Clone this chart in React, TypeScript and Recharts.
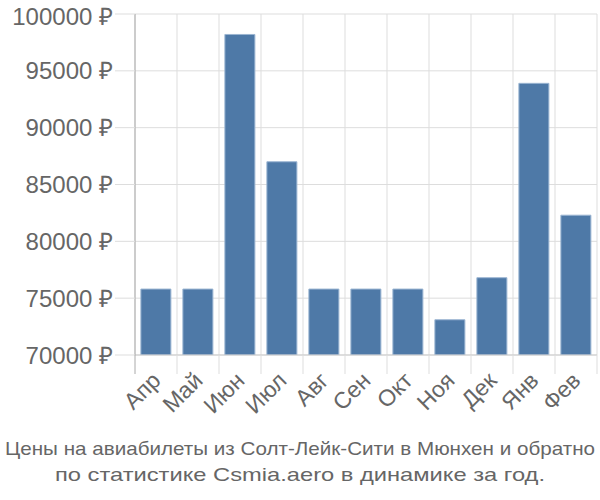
import { BarChart, Bar, XAxis, YAxis, CartesianGrid } from "recharts";

const MONTHS = ["Апр", "Май", "Июн", "Июл", "Авг", "Сен", "Окт", "Ноя", "Дек", "Янв", "Фев"];
const PRICES = [75800, 75800, 98200, 87000, 75800, 75800, 75800, 73100, 76800, 93900, 82300];
const Y_TICKS = [70000, 75000, 80000, 85000, 90000, 95000, 100000];
const TITLE_LINES = [
  "Цены на авиабилеты из Солт-Лейк-Сити в Мюнхен и обратно",
  "по статистике Csmia.aero в динамике за год.",
];

const data = MONTHS.map((m, i) => ({ month: m, price: PRICES[i] }));

const FONT = "'Liberation Sans', Arial, sans-serif";

function MonthTick(props: any) {
  const { x, y, payload, index, width, visibleTicksCount } = props;
  const bw = width / (visibleTicksCount || MONTHS.length);
  const left = x - bw / 2;
  const ax = x + 6;
  const ay = y + 27;
  return (
    <g>
      <line x1={left} y1={y} x2={left} y2={y + 19} stroke={index === 0 ? "#aaa" : "#ddd"} />
      {index === MONTHS.length - 1 && (
        <line x1={left + bw} y1={y} x2={left + bw} y2={y + 19} stroke="#ddd" />
      )}
      <text
        x={ax}
        y={ay}
        transform={`rotate(-45, ${ax}, ${ay})`}
        textAnchor="end"
        fill="#666"
        fontSize={23}
        fontFamily={FONT}
      >
        {payload.value}
      </text>
    </g>
  );
}

export default function App() {
  return (
    <div style={{ position: "absolute", left: 0, top: 0, width: 600, height: 500 }}>
      <BarChart
        width={600}
        height={500}
        data={data}
        margin={{ top: 14, right: 3, bottom: 0, left: 0 }}
        barCategoryGap="14%"
      >
        <CartesianGrid
          stroke="#ddd"
          verticalCoordinatesGenerator={({ offset }: any) =>
            MONTHS.map((_, i) => offset.left + (i * offset.width) / MONTHS.length).concat(
              offset.left + offset.width
            )
          }
        />
        <XAxis
          dataKey="month"
          height={145}
          interval={0}
          tickSize={0}
          tickMargin={0}
          tickLine={false}
          axisLine={{ stroke: "#ccc" }}
          tick={<MonthTick />}
        />
        <YAxis
          width={135}
          domain={[70000, 100000]}
          ticks={Y_TICKS}
          allowDataOverflow
          tickSize={20}
          tickMargin={2}
          tickLine={{ stroke: "#ddd" }}
          axisLine={{ stroke: "#aaa" }}
          tickFormatter={(v: number) => `${v} ₽`}
          tick={{ fill: "#666", fontSize: 24, fontFamily: FONT }}
        />
        <Bar
          dataKey="price"
          fill="#4e79a7"
          stroke="#9bb5d2"
          strokeWidth={1}
          isAnimationActive={false}
        />
      </BarChart>
      <svg
        width={600}
        height={80}
        style={{ position: "absolute", left: 0, top: 420 }}
      >
        <text
          x={300}
          y={35}
          textAnchor="middle"
          fill="#666"
          fontSize={19}
          fontFamily={FONT}
          textLength={590}
          lengthAdjust="spacingAndGlyphs"
        >
          {TITLE_LINES[0]}
        </text>
        <text
          x={300}
          y={61}
          textAnchor="middle"
          fill="#666"
          fontSize={19}
          fontFamily={FONT}
          textLength={490}
          lengthAdjust="spacingAndGlyphs"
        >
          {TITLE_LINES[1]}
        </text>
      </svg>
    </div>
  );
}
